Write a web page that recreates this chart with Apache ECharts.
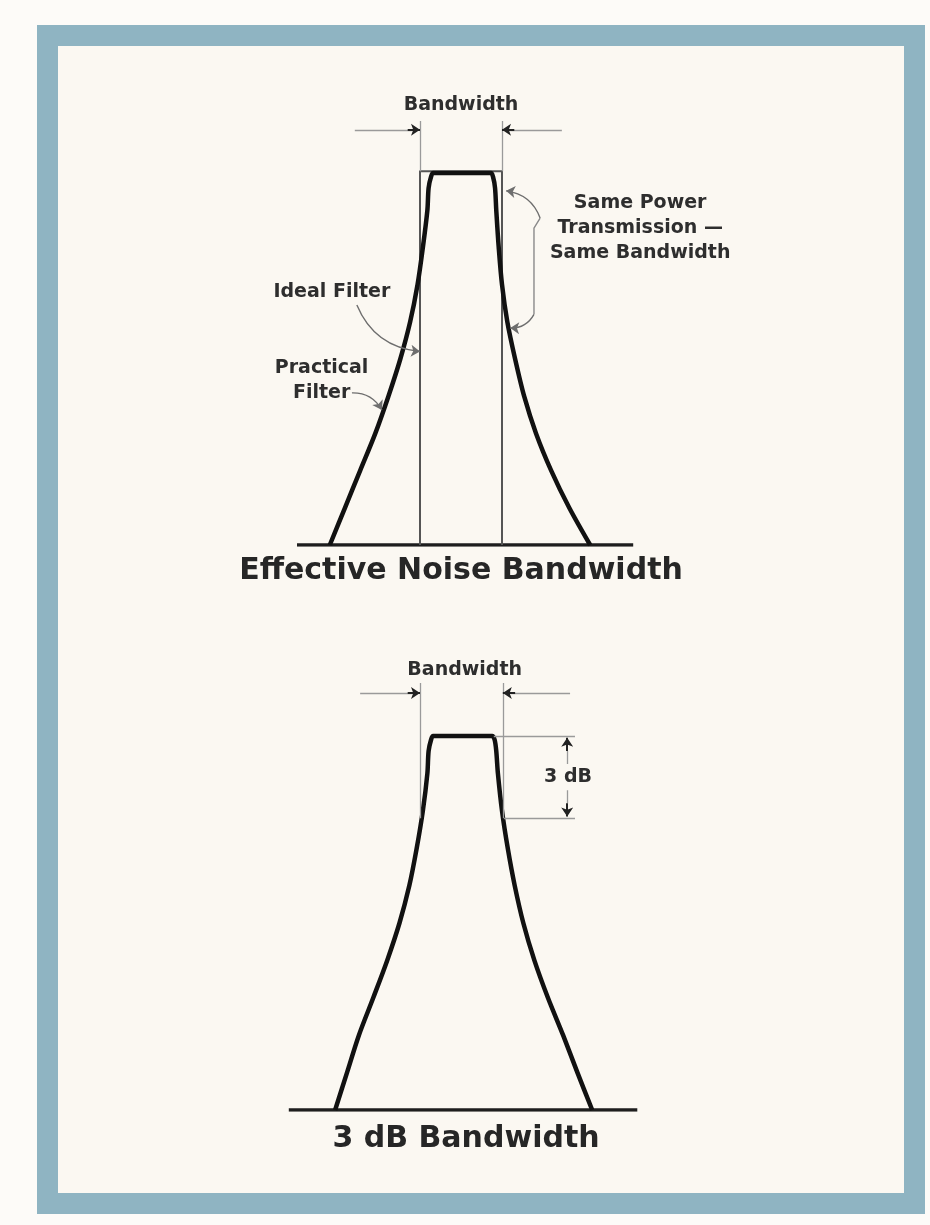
<!DOCTYPE html>
<html>
<head>
<meta charset="utf-8">
<script src="https://cdn.jsdelivr.net/npm/echarts@6/dist/echarts.min.js"></script>
<style>
  html, body { margin: 0; padding: 0; background: #fdfbf8; }
  #chart { width: 930px; height: 1225px; }
</style>
</head>
<body>
<div id="chart"></div>
<script>
// x = frequency offset (1 unit = half the ideal bandwidth), y = relative response

// top panel: effective noise bandwidth (left skirt -> flat top -> right skirt)
var practicalTopFreq = [-3.2, -2.83, -2.46, -2.09, -1.77, -1.48, -1.24, -1.06, -0.93, -0.82, -0.79, -0.73, -0.68,
                        0.73, 0.78, 0.83, 0.86, 0.92, 1.0, 1.13, 1.32, 1.54, 1.83, 2.2, 2.64, 3.15];
var practicalTopResp = [0, 0.1, 0.2, 0.3, 0.4, 0.5, 0.6, 0.7, 0.8, 0.9, 0.96, 0.99, 1.0,
                        1.0, 0.99, 0.96, 0.9, 0.8, 0.7, 0.6, 0.5, 0.4, 0.3, 0.2, 0.1, 0];
var idealFreq = [-1, -1, 1, 1];
var idealResp = [0, 1.005, 1.005, 0];
var baseTop = [-4.0, 4.2];

// bottom panel: 3 dB bandwidth
var practicalBotFreq = [-3.07, -2.78, -2.49, -2.14, -1.8, -1.5, -1.26, -1.08, -0.93, -0.82, -0.79, -0.73, -0.68,
                        0.76, 0.82, 0.86, 0.9, 1.0, 1.14, 1.31, 1.52, 1.79, 2.12, 2.49, 2.84, 3.2];
var practicalBotResp = [0, 0.1, 0.2, 0.3, 0.4, 0.5, 0.6, 0.7, 0.8, 0.9, 0.96, 0.99, 1.0,
                        1.0, 0.99, 0.96, 0.9, 0.8, 0.7, 0.6, 0.5, 0.4, 0.3, 0.2, 0.1, 0];
var baseBot = [-4.2, 4.3];
var halfPower = 0.78;
var bwEdgesBot = [-1, 1.02];

var font = "DejaVu Sans";

function pairs(xs, ys) {
  return xs.map(function (x, i) { return [x, ys[i]]; });
}

// dimension lines, thin grey
var dimTop = [
  [[-1, 1.005], [-1, 1.14]],
  [[1, 1.005], [1, 1.14]],
  [[-2.59, 1.116], [-1.2, 1.116]],
  [[2.46, 1.116], [1.2, 1.116]]
];
var dimBot = [
  [[bwEdgesBot[0], halfPower], [bwEdgesBot[0], 1.142]],
  [[bwEdgesBot[1], halfPower], [bwEdgesBot[1], 1.142]],
  [[-2.46, 1.115], [-1.2, 1.115]],
  [[2.66, 1.115], [1.22, 1.115]],
  [[0.8, 1.0], [2.78, 1.0]],
  [[1.05, halfPower], [2.78, halfPower]],
  [[2.59, 0.925], [2.59, 0.96]],
  [[2.59, 0.855], [2.59, 0.82]]
];
// arrow heads (short dark segments ending in arrow)
var headTop = [
  [[-1.3, 1.116], [-1.0, 1.116]],
  [[1.3, 1.116], [1.0, 1.116]]
];
var headBot = [
  [[-1.3, 1.115], [-1.0, 1.115]],
  [[1.32, 1.115], [1.02, 1.115]],
  [[2.59, 0.96], [2.59, 0.995]],
  [[2.59, 0.82], [2.59, 0.785]]
];
// curved leaders to the labels
var leaders = [
  { coords: [[-2.54, 0.645], [-1.0, 0.52]], curve: -0.3 },
  { coords: [[-2.66, 0.409], [-1.93, 0.363]], curve: 0.3 },
  { coords: [[1.93, 0.879], [1.1, 0.952]], curve: -0.3 },
  { coords: [[1.78, 0.62], [1.2, 0.583]], curve: 0.3 }
];
var braceLine = [[1.93, 0.879], [1.78, 0.852], [1.78, 0.62]];

var labelsTop = [
  { text: "Bandwidth", x: 0, y: 1.183 },
  { text: "Ideal Filter", x: -3.15, y: 0.68 },
  { text: "Practical\nFilter", x: -3.4, y: 0.441 },
  { text: "Same Power\nTransmission \u2014\nSame Bandwidth", x: 4.37, y: 0.852 }
];
var labelsBot = [
  { text: "Bandwidth", x: 0.09, y: 1.176 },
  { text: "3 dB", x: 2.61, y: 0.89 }
];

function lineSeries(idx, data, width, color, smooth) {
  return {
    type: "line", xAxisIndex: idx, yAxisIndex: idx, data: data,
    showSymbol: false, smooth: smooth || false,
    lineStyle: { width: width, color: color, join: "round" }, silent: true, z: 3
  };
}
function segSeries(idx, segs, width, color, arrow) {
  return {
    type: "lines", coordinateSystem: "cartesian2d", xAxisIndex: idx, yAxisIndex: idx,
    data: segs.map(function (s) { return { coords: s }; }),
    symbol: arrow ? ["none", "arrow"] : "none", symbolSize: 9,
    lineStyle: { width: width, color: color, opacity: 1 }, silent: true, z: 4
  };
}
function labelSeries(idx, labels, size, color) {
  return {
    type: "scatter", xAxisIndex: idx, yAxisIndex: idx, symbolSize: 0, silent: true,
    itemStyle: { opacity: 1 },
    data: labels.map(function (l) { return { name: l.text, value: [l.x, l.y] }; }),
    label: {
      show: true, position: "inside", formatter: "{b}", fontFamily: font, fontWeight: "bold",
      fontSize: size, color: color, opacity: 1, lineHeight: 25, align: "center", verticalAlign: "middle"
    }, z: 5
  };
}

var chart = echarts.init(document.getElementById("chart"));
chart.setOption({
  animation: false,
  backgroundColor: "#fdfbf8",
  graphic: [{
    type: "rect", silent: true, z: -10,
    shape: { x: 47.5, y: 35.5, width: 867, height: 1168 },
    style: { fill: "#fbf8f2", stroke: "#8fb4c2", lineWidth: 21 }
  }],
  title: [
    { text: "Effective Noise Bandwidth", left: 461, top: 556, textAlign: "center", padding: 0,
      textStyle: { fontFamily: font, fontWeight: "bold", fontSize: 30, color: "#262626" } },
    { text: "3 dB Bandwidth", left: 466, top: 1124, textAlign: "center", padding: 0,
      textStyle: { fontFamily: font, fontWeight: "bold", fontSize: 30, color: "#262626" } }
  ],
  grid: [
    { left: 256, width: 410, top: 61.4, height: 483.6 },
    { left: 256, width: 410, top: 623.8, height: 486.2 }
  ],
  xAxis: [
    { type: "value", gridIndex: 0, min: -5, max: 5, show: false },
    { type: "value", gridIndex: 1, min: -5, max: 5, show: false }
  ],
  yAxis: [
    { type: "value", gridIndex: 0, min: 0, max: 1.3, show: false },
    { type: "value", gridIndex: 1, min: 0, max: 1.3, show: false }
  ],
  series: [
    // top
    lineSeries(0, [[baseTop[0], 0], [baseTop[1], 0]], 3.5, "#1e1e1e"),
    lineSeries(0, pairs(idealFreq, idealResp), 2, "#555"),
    lineSeries(0, pairs(practicalTopFreq, practicalTopResp), 4.5, "#111", 0.3),
    segSeries(0, dimTop, 1.3, "#9a9a9a", false),
    segSeries(0, headTop, 2, "#222", true),
    lineSeries(0, braceLine, 1.4, "#8a8a8a"),
    {
      type: "lines", coordinateSystem: "cartesian2d", xAxisIndex: 0, yAxisIndex: 0,
      data: leaders.map(function (l) { return { coords: l.coords, lineStyle: { curveness: l.curve } }; }),
      symbol: ["none", "arrow"], symbolSize: 9,
      lineStyle: { width: 1.4, color: "#6e6e6e", opacity: 1 }, silent: true, z: 4
    },
    labelSeries(0, labelsTop, 19, "#2e2e2e"),
    // bottom
    lineSeries(1, [[baseBot[0], 0], [baseBot[1], 0]], 3.5, "#1e1e1e"),
    lineSeries(1, pairs(practicalBotFreq, practicalBotResp), 4.5, "#111", 0.3),
    segSeries(1, dimBot, 1.3, "#9a9a9a", false),
    segSeries(1, headBot, 2, "#222", true),
    labelSeries(1, labelsBot, 19, "#2e2e2e")
  ]
});
</script>
</body>
</html>
